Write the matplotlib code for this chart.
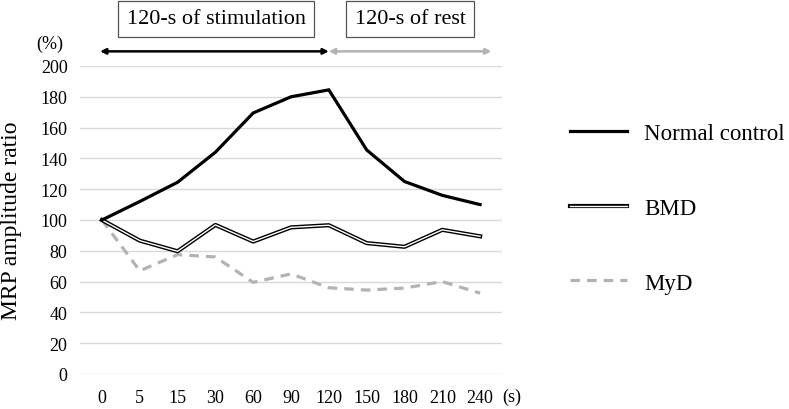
import numpy as np
import matplotlib
matplotlib.use("Agg")
import matplotlib.pyplot as plt
import matplotlib.patheffects as pe

plt.rcParams['font.family'] = ['Liberation Serif', 'DejaVu Serif']

times = ["0", "5", "15", "30", "60", "90", "120", "150", "180", "210", "240"]
normal_control = [100, 112, 124.5, 144, 169.5, 180, 184.5, 145.5, 125, 116, 110]
bmd = [100, 86.6, 79.7, 96.8, 86, 95.2, 96.6, 85, 82.6, 93.6, 89.4]
myd = [100, 67, 77.5, 76, 59.5, 65, 56, 54.5, 55.8, 60, 52.5]
yticks = list(range(0, 201, 20))

fig = plt.figure(figsize=(7.89, 4.10), dpi=100)
ax = fig.add_axes([0.1014, 0.0854, 0.5349, 0.7512])

x = np.arange(len(times))
ax.plot(x, normal_control, color="black", lw=2.3, label="Normal control",
        solid_joinstyle="miter", zorder=4)
ax.plot(x, bmd, color="white", lw=1.0, label="BMD", zorder=3,
        path_effects=[pe.Stroke(linewidth=3.0, foreground="black"), pe.Normal()])
ax.plot(x, myd, color="#b3b3b3", lw=2.3, linestyle=(0, (3, 2.2)), label="MyD", zorder=2)

ax.set_xlim(-0.58, len(times) - 0.42)
ax.set_ylim(0, 200)
ax.set_yticks(yticks)
ax.set_xticks(x)
ax.set_xticklabels(times)
ax.yaxis.grid(True, color="#d9d9d9", lw=1)
ax.set_axisbelow(True)
for s in ax.spines.values():
    s.set_visible(False)
ax.tick_params(length=0, labelsize=13, pad=9)
ax.tick_params(axis="x", pad=11)
ax.set_ylabel("MRP amplitude ratio", fontsize=17, labelpad=13)

fig.text(0.063, 0.893, "(%)", fontsize=13, ha="center", va="center")
fig.text(0.649, 0.03, "(s)", fontsize=13, ha="center", va="center")

# phase arrows
ax.annotate("", xy=(-0.05, 209.5), xytext=(6.0, 209.5), xycoords="data",
            arrowprops=dict(arrowstyle="<|-|>", color="black", lw=1.8,
                            mutation_scale=8, shrinkA=0, shrinkB=0),
            annotation_clip=False)
ax.annotate("", xy=(6.0, 209.5), xytext=(10.3, 209.5), xycoords="data",
            arrowprops=dict(arrowstyle="<|-|>", color="#b3b3b3", lw=1.8,
                            mutation_scale=8, shrinkA=0, shrinkB=0),
            annotation_clip=False)

box = dict(boxstyle="square,pad=0.38", fc="white", ec="#555555", lw=0.9)
fig.text(0.274, 0.952, "120-s of stimulation", fontsize=16, ha="center", va="center", bbox=box)
fig.text(0.52, 0.952, "120-s of rest", fontsize=16, ha="center", va="center", bbox=box)

ax.legend(loc="center left", bbox_to_anchor=(0.696, 0.49), bbox_transform=fig.transFigure,
          frameon=False, fontsize=16.5, handlelength=2.5, handletextpad=0.75, labelspacing=2.35)

fig.savefig("out.png", dpi=100)
